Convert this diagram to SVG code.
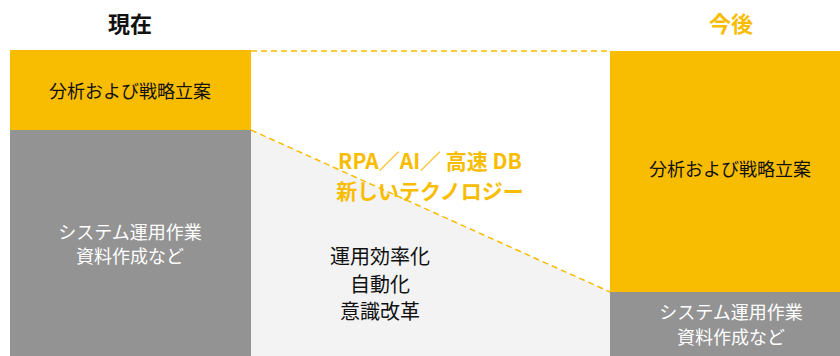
<svg xmlns="http://www.w3.org/2000/svg" width="840" height="356" viewBox="0 0 840 356">
<style>
.t{font-family:"Noto Sans CJK JP","Noto Sans",sans-serif;text-anchor:middle}
.y{fill:#f8bc00}
.g{fill:#939393}
.b{font-size:18px}
.dash{stroke:#f8bc00;stroke-width:1.5;stroke-dasharray:6,4;fill:none}
</style>
<rect width="840" height="356" fill="#ffffff"/>
<g id="transition">
<polygon points="251,130 610,292 610,356 251,356" fill="#f3f3f3"/>
</g>
<g id="connectors">
<line class="dash" x1="251" y1="51" x2="610" y2="51"/>
<line class="dash" x1="251" y1="130" x2="610" y2="292"/>
</g>
<g id="title-now"><text class="t" x="130" y="32" font-size="22" font-weight="bold" fill="#111">現在</text></g>
<g id="title-future"><text class="t y" x="731" y="32" font-size="22" font-weight="bold">今後</text></g>
<g id="now-analysis">
<rect class="y" x="10" y="50" width="241" height="80"/>
<text class="t b" x="130" y="98" fill="#111">分析および戦略立案</text>
</g>
<g id="now-ops">
<rect class="g" x="10" y="130" width="241" height="226"/>
<text class="t b" x="130" y="239" fill="#fff">システム運用作業</text>
<text class="t b" x="130" y="263" fill="#fff">資料作成など</text>
</g>
<g id="future-analysis">
<rect class="y" x="610" y="51" width="230" height="241"/>
<text class="t b" x="730" y="176" fill="#111">分析および戦略立案</text>
</g>
<g id="future-ops">
<rect class="g" x="610" y="292" width="230" height="64"/>
<text class="t b" x="731" y="319" fill="#fff">システム運用作業</text>
<text class="t b" x="731" y="344" fill="#fff">資料作成など</text>
</g>
<g id="technology">
<text class="t y" x="430" y="169" font-size="21" font-weight="bold">RPA／AI／ 高速 DB</text>
<text class="t y" x="430" y="199" font-size="21" font-weight="bold">新しいテクノロジー</text>
</g>
<g id="effects">
<text class="t" x="380" y="264" font-size="20" fill="#111">運用効率化</text>
<text class="t" x="380" y="292" font-size="20" fill="#111">自動化</text>
<text class="t" x="380" y="319" font-size="20" fill="#111">意識改革</text>
</g>
</svg>
